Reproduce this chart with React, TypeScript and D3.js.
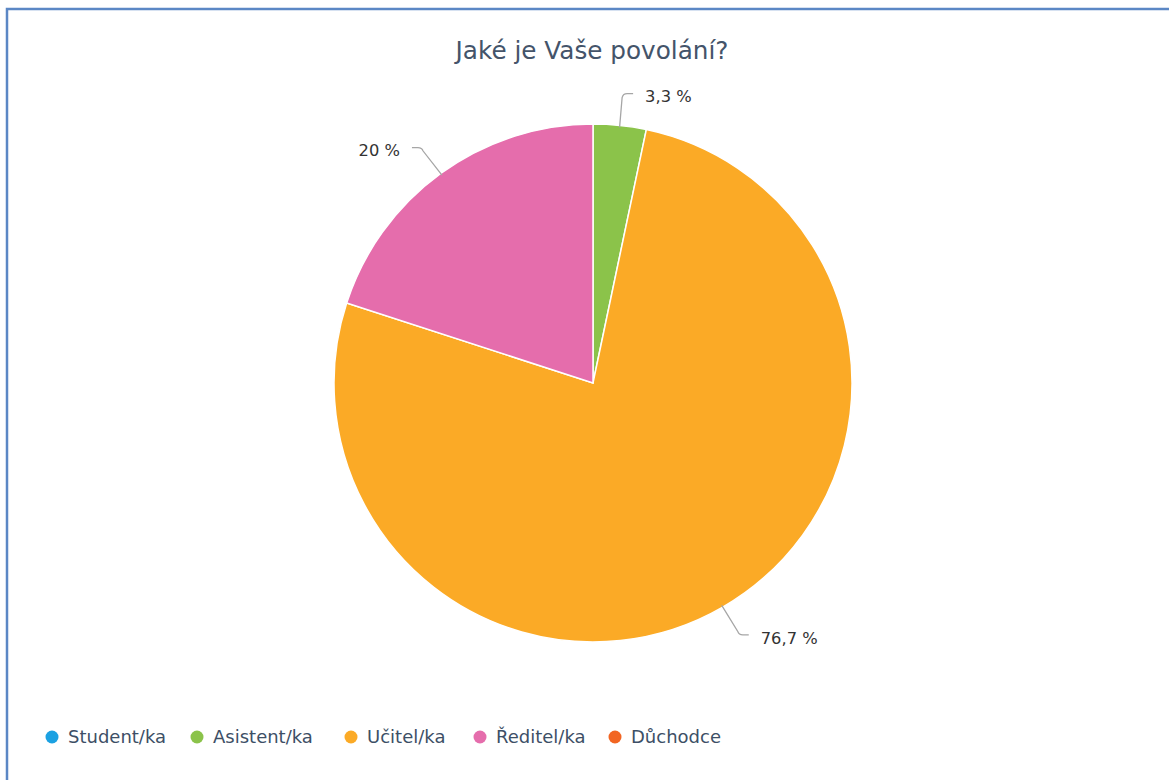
import React from "react";
import * as d3 from "d3";

const categories = ["Student/ka", "Asistent/ka", "Učitel/ka", "Ředitel/ka", "Důchodce"];
const values = [0, 3.3, 76.7, 20, 0];
const labels = ["0 %", "3,3 %", "76,7 %", "20 %", "0 %"];
const colors = ["#1ba1e2", "#8bc34a", "#fbaa26", "#e56dac", "#f26522"];
const title = "Jaké je Vaše povolání?";

const W = 1169;
const H = 780;
const cx = 593;
const cy = 383;
const R = 259;
const legendX = [52, 197, 351, 480, 615];
const legendY = 737;

export default function App() {
  const pie = d3.pie<number>().sort(null).value((d) => d)(values);
  const arc = d3.arc<d3.PieArcDatum<number>>().innerRadius(0).outerRadius(R);
  const font = "'DejaVu Sans', sans-serif";

  return (
    <svg
      width={W}
      height={H}
      style={{ position: "absolute", left: 0, top: 0, background: "#fff" }}
    >
      <rect x={7} y={9} width={1300} height={900} fill="#fff" stroke="#5b87c5" strokeWidth={2.5} />
      <text x={592} y={59} textAnchor="middle" fontFamily={font} fontSize={24.7} fill="#44546a">
        {title}
      </text>
      <g transform={`translate(${cx},${cy})`}>
        {pie.map((p, i) =>
          p.value > 0 ? (
            <path key={i} d={arc(p) || ""} fill={colors[i]} stroke="#fff" strokeWidth={1.5} />
          ) : null
        )}
        {pie.map((p, i) => {
          if (p.value <= 0) return null;
          const mid = (p.startAngle + p.endAngle) / 2;
          const s = Math.sin(mid);
          const c = -Math.cos(mid);
          const x0 = s * (R - 2);
          const y0 = c * (R - 2);
          const x1 = s * (R + 32);
          const y1 = c * (R + 32);
          const dir = s >= 0 ? 1 : -1;
          const x2 = x1 + dir * 10;
          const path = `M${x0},${y0} L${x1 - dir * 1},${y1 - c * 4} Q${x1},${y1} ${x1 + dir * 4},${y1} L${x2},${y1}`;
          return (
            <g key={"l" + i}>
              <path d={path} fill="none" stroke="#a6a6a6" strokeWidth={1.3} />
              <text
                x={x2 + dir * 12}
                y={y1 + 3}
                dy="0.35em"
                textAnchor={dir > 0 ? "start" : "end"}
                fontFamily={font}
                fontSize={16.3}
                fill="#333"
              >
                {labels[i]}
              </text>
            </g>
          );
        })}
      </g>
      {categories.map((c, i) => (
        <g key={"lg" + i} transform={`translate(${legendX[i]},${legendY})`}>
          <circle r={6.5} fill={colors[i]} />
          <text x={16} dy="0.35em" fontFamily={font} fontSize={18} fill="#3d4f66">
            {c}
          </text>
        </g>
      ))}
    </svg>
  );
}
